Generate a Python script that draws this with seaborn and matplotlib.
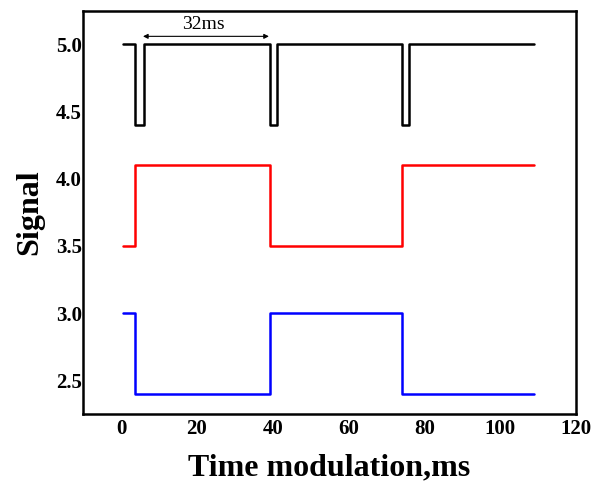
import numpy as np
import pandas as pd
import seaborn as sns
import matplotlib.pyplot as plt

# step signals as vertex lists (time in ms)
t_black = [0.5, 3.7, 3.7, 6.0, 6.0, 39.3, 39.3, 41.2, 41.2, 74.1, 74.1, 76.0, 76.0, 109]
s_black = [5.0, 5.0, 4.4, 4.4, 5.0, 5.0, 4.4, 4.4, 5.0, 5.0, 4.4, 4.4, 5.0, 5.0]

t_red = [0.5, 3.7, 3.7, 39.3, 39.3, 74.1, 74.1, 109]
s_red = [3.5, 3.5, 4.1, 4.1, 3.5, 3.5, 4.1, 4.1]

t_blue = [0.5, 3.7, 3.7, 39.3, 39.3, 74.1, 74.1, 109]
s_blue = [3.0, 3.0, 2.4, 2.4, 3.0, 3.0, 2.4, 2.4]

x_ticks = [0, 20, 40, 60, 80, 100, 120]
y_ticks = [2.5, 3.0, 3.5, 4.0, 4.5, 5.0]

sns.set_style("white")
plt.rcParams['font.family'] = ['Liberation Serif', 'DejaVu Serif']
plt.rcParams['text.color'] = 'black'
plt.rcParams['axes.labelcolor'] = 'black'
plt.rcParams['xtick.color'] = 'black'
plt.rcParams['ytick.color'] = 'black'

fig = plt.figure(figsize=(6.02, 4.92), dpi=100)
ax = fig.add_axes([0.138, 0.159, 0.819, 0.819])

for t, s, c in [(t_black, s_black, 'black'), (t_red, s_red, 'red'), (t_blue, s_blue, 'blue')]:
    df = pd.DataFrame({"Time": t, "Signal": s})
    sns.lineplot(x="Time", y="Signal", data=df, sort=False, estimator=None,
                 color=c, linewidth=1.8, ax=ax)

# period annotation
ax.annotate("", xy=(39.0, 5.06), xytext=(5.8, 5.06),
            arrowprops=dict(arrowstyle="<|-|>", color="black", lw=0.8,
                            mutation_scale=7, shrinkA=0, shrinkB=0))
ax.text(21.6, 5.145, "32ms", ha="center", va="center", fontsize=14)

ax.set_xlim(-10, 120)
ax.set_ylim(2.25, 5.25)
ax.set_xticks(x_ticks)
ax.set_yticks(y_ticks)
ax.set_yticklabels([f"{v:.1f}" for v in y_ticks])
ax.tick_params(length=0, labelsize=15)
ax.tick_params(axis="y", pad=1)
ax.tick_params(axis="x", pad=4)
for lab in ax.get_xticklabels() + ax.get_yticklabels():
    lab.set_fontweight("bold")
for sp in ax.spines.values():
    sp.set_color("black")
    sp.set_linewidth(1.8)

ax.set_xlabel("Time modulation,ms", fontsize=23, fontweight="bold", labelpad=10)
ax.set_ylabel("Signal", fontsize=23, fontweight="bold", labelpad=8)

plt.savefig("out.png", dpi=100)
